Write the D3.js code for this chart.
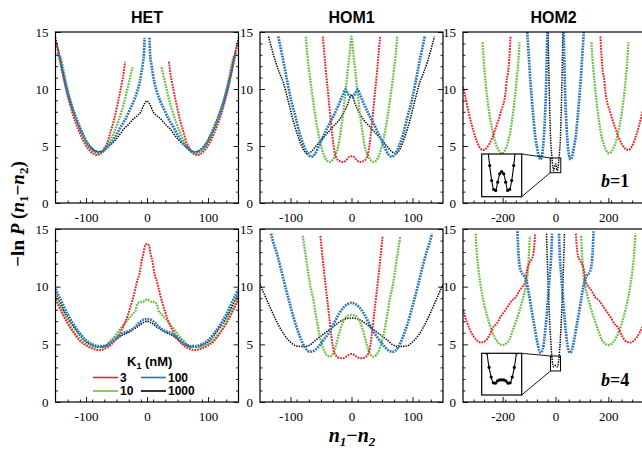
<!DOCTYPE html>
<html>
<head>
<meta charset="utf-8">
<script src="https://cdn.jsdelivr.net/npm/d3@7"></script>
<style>
body { margin: 0; background: #fff; }
svg { display: block; }
</style>
</head>
<body>
<script>
// K1 values (nM) of the four series
const k1Values = ['3', '10', '100', '1000'];

// HET, b=1  (points [n1-n2, -ln P]; null = no data)
const hetTop3 = [[-150,14.0],[-146,13.4],[-142,12.5],[-138,11.4],[-134,10.3],[-130,9.4],[-124,8.2],[-118,7.2],[-110,6.1],[-102,5.2],[-94,4.6],[-86,4.25],[-82,4.2],[-76,4.35],[-70,4.8],[-65,5.3],[-60,6.2],[-54,7.3],[-49,8.5],[-45,9.5],[-41,10.6],[-38,11.5],[-36,12.4],
  null,[36,12.4],[38,11.5],[41,10.6],[45,9.5],[49,8.5],[54,7.3],[60,6.2],[65,5.3],[70,4.8],[76,4.35],[82,4.2],[86,4.25],[94,4.6],[102,5.2],[110,6.1],[118,7.2],[124,8.2],[130,9.4],[134,10.3],[138,11.4],[142,12.5],[146,13.4],[150,14.0]];
const hetTop10 = [[-142,12.9],[-138,12.0],[-134,10.9],[-129,9.7],[-123,8.5],[-116,7.3],[-108,6.2],[-100,5.3],[-92,4.7],[-84,4.4],[-78,4.35],[-72,4.5],[-66,4.9],[-60,5.5],[-54,6.2],[-48,7.0],[-42,8.0],[-37,8.9],[-33,9.8],[-29,10.7],[-26,11.4],[-24,11.9],
  null,[24,11.9],[26,11.4],[29,10.7],[33,9.8],[37,8.9],[42,8.0],[48,7.0],[54,6.2],[60,5.5],[66,4.9],[72,4.5],[78,4.35],[84,4.4],[92,4.7],[100,5.3],[108,6.2],[116,7.3],[123,8.5],[129,9.7],[134,10.9],[138,12.0],[142,12.9]];
const hetTop100 = [[-146,13.2],[-142,12.4],[-138,11.4],[-133,10.3],[-127,9.1],[-120,8.0],[-112,6.9],[-104,5.9],[-96,5.1],[-88,4.65],[-80,4.45],[-74,4.5],[-68,4.75],[-60,5.2],[-52,5.8],[-44,6.6],[-36,7.3],[-28,8.2],[-22,8.9],[-16,9.8],[-12,10.6],[-9,11.5],[-7,12.2],[-5,13.1],[-4,14.5],
  null,[4,14.5],[5,13.1],[7,12.2],[9,11.5],[12,10.6],[16,9.8],[22,8.9],[28,8.2],[36,7.3],[44,6.6],[52,5.8],[60,5.2],[68,4.75],[74,4.5],[80,4.45],[88,4.65],[96,5.1],[104,5.9],[112,6.9],[120,8.0],[127,9.1],[133,10.3],[138,11.4],[142,12.4],[146,13.2]];
const hetTop1000 = [[-150,14.5],[-147,13.8],[-143,12.8],[-139,11.6],[-134,10.5],[-128,9.3],[-122,8.3],[-115,7.2],[-108,6.3],[-100,5.5],[-92,4.9],[-84,4.55],[-77,4.5],[-70,4.65],[-62,5.0],[-54,5.4],[-46,5.9],[-38,6.5],[-30,6.9],[-22,7.4],[-15,7.7],[-10,8.0],[-6,8.5],[-3,8.8],[0,8.95],
  [3,8.8],[6,8.5],[10,8.0],[15,7.7],[22,7.4],[30,6.9],[38,6.5],[46,5.9],[54,5.4],[62,5.0],[70,4.65],[77,4.5],[84,4.55],[92,4.9],[100,5.5],[108,6.3],[115,7.2],[122,8.3],[128,9.3],[134,10.5],[139,11.6],[143,12.8],[147,13.8],[150,14.5]];

// HOM1, b=1
const hom1Top3 = [[-47,14.6],[-44,12.8],[-41,11.0],[-39,10.0],[-36,8.3],[-33,6.7],[-30,5.3],[-27,4.3],[-22,3.75],[-14,3.6],[-8,3.8],[-4,4.05],[0,4.1],[4,4.05],[8,3.8],[14,3.6],[22,3.75],[27,4.3],[30,5.3],[33,6.7],[36,8.3],[39,10.0],[41,11.0],[44,12.8],[47,14.6]];
const hom1Top10 = [[-75,14.6],[-72,12.8],[-68,11.0],[-63,9.0],[-58,7.2],[-52,5.5],[-46,4.3],[-40,3.7],[-36,3.6],[-31,3.8],[-26,4.3],[-22,4.9],[-18,6.2],[-14,7.7],[-11,9.2],[-8,10.7],[-6,11.7],[-3,13.1],[0,14.6],
  [3,13.1],[6,11.7],[8,10.7],[11,9.2],[14,7.7],[18,6.2],[22,4.9],[26,4.3],[31,3.8],[36,3.6],[40,3.7],[46,4.3],[52,5.5],[58,7.2],[63,9.0],[68,11.0],[72,12.8],[75,14.6]];
const hom1Top100 = [[-120,14.6],[-117,13.8],[-113,12.8],[-109,11.7],[-104,10.3],[-99,9.0],[-92,7.6],[-85,6.1],[-78,5.0],[-72,4.35],[-66,4.06],[-60,4.3],[-52,5.2],[-44,6.1],[-36,7.0],[-28,7.8],[-22,8.5],[-14,9.5],[-10,9.97],[-6,9.6],[-3,9.35],[0,9.3],
  [3,9.35],[6,9.6],[10,9.97],[14,9.5],[22,8.5],[28,7.8],[36,7.0],[44,6.1],[52,5.2],[60,4.3],[66,4.06],[72,4.35],[78,5.0],[85,6.1],[92,7.6],[99,9.0],[104,10.3],[109,11.7],[113,12.8],[117,13.8],[120,14.6]];
const hom1Top1000 = [[-136,14.6],[-130,13.4],[-124,12.3],[-118,11.4],[-112,10.6],[-104,9.0],[-96,7.3],[-88,5.9],[-80,4.8],[-73,4.35],[-66,4.5],[-58,5.0],[-50,5.5],[-40,6.1],[-30,6.7],[-20,7.3],[-12,8.0],[-6,8.7],[-3,9.2],[0,9.5],
  [3,9.2],[6,8.7],[12,8.0],[20,7.3],[30,6.7],[40,6.1],[50,5.5],[58,5.0],[66,4.5],[73,4.35],[80,4.8],[88,5.9],[96,7.3],[104,9.0],[112,10.6],[118,11.4],[124,12.3],[130,13.4],[136,14.6]];

// HOM2, b=1
const hom2Top3 = [[-350,10.2],[-340,9.2],[-328,7.9],[-315,6.7],[-302,5.7],[-290,5.0],[-275,4.65],[-262,4.8],[-250,5.2],[-238,5.8],[-226,6.6],[-214,7.4],[-204,8.2],[-198,8.6],[-193,9.1],[-188,9.9],[-184,10.9],[-179,11.5],[-175,12.6],[-170,14.6],
  null,[170,14.6],[175,12.6],[179,11.5],[184,10.9],[188,9.9],[193,9.1],[198,8.6],[204,8.2],[214,7.4],[226,6.6],[238,5.8],[250,5.2],[262,4.8],[275,4.65],[290,5.0],[302,5.7],[315,6.7],[328,7.9],[340,9.2],[350,10.2]];
const hom2Top10 = [[-276,14.1],[-270,12.0],[-263,10.2],[-256,8.8],[-248,7.5],[-238,6.3],[-226,5.2],[-214,4.6],[-203,4.35],[-192,4.6],[-182,5.2],[-172,6.1],[-164,7.3],[-157,8.6],[-151,9.8],[-145,11.3],[-140,12.6],[-136,14.1],
  null,[136,14.1],[140,12.6],[145,11.3],[151,9.8],[157,8.6],[164,7.3],[172,6.1],[182,5.2],[192,4.6],[203,4.35],[214,4.6],[226,5.2],[238,6.3],[248,7.5],[256,8.8],[263,10.2],[270,12.0],[276,14.1]];
const hom2Top100 = [[-107,15.0],[-102,13.2],[-96,11.0],[-90,9.2],[-84,7.6],[-78,6.1],[-70,4.9],[-63,4.1],[-57,3.83],[-51,4.2],[-46,5.2],[-42,6.6],[-38,8.6],[-35,10.8],[-33,12.8],[-31,15.0],
  null,[31,15.0],[33,12.8],[35,10.8],[38,8.6],[42,6.6],[46,5.2],[51,4.2],[57,3.83],[63,4.1],[70,4.9],[78,6.1],[84,7.6],[90,9.2],[96,11.0],[102,13.2],[107,15.0]];
const hom2Top1000 = [[-28,15.2],[-26,12.6],[-24,10.3],[-22,8.3],[-20,6.6],[-18,5.4],[-16,4.7],[-14,4.15],[-12,3.6],[-10,3.15],[-8,2.88],[-6,2.85],[-4,3.1],[-2,3.35],[0,3.42],
  [2,3.35],[4,3.1],[6,2.85],[8,2.88],[10,3.15],[12,3.6],[14,4.15],[16,4.7],[18,5.4],[20,6.6],[22,8.3],[24,10.3],[26,12.6],[28,15.2]];

// HET, b=4
const hetBot3 = [[-150,8.9],[-140,7.8],[-130,6.8],[-120,6.0],[-110,5.3],[-100,4.9],[-90,4.65],[-78,4.5],[-68,4.65],[-58,5.0],[-50,5.5],[-42,6.2],[-35,7.0],[-28,8.1],[-22,9.2],[-16,10.5],[-12,11.2],[-9,12.2],[-6,12.8],[-3,13.6],[0,13.7],
  [3,13.6],[6,12.8],[9,12.2],[12,11.2],[16,10.5],[22,9.2],[28,8.1],[35,7.0],[42,6.2],[50,5.5],[58,5.0],[68,4.65],[78,4.5],[90,4.65],[100,4.9],[110,5.3],[120,6.0],[130,6.8],[140,7.8],[150,8.9]];
const hetBot10 = [[-150,9.2],[-140,8.0],[-130,7.0],[-120,6.1],[-110,5.5],[-100,5.05],[-90,4.8],[-80,4.75],[-70,4.85],[-60,5.3],[-50,5.9],[-40,6.6],[-32,7.1],[-24,7.6],[-19,7.9],[-16,8.5],[-12,8.65],[-6,8.7],[0,8.9],
  [6,8.7],[12,8.65],[16,8.5],[19,7.9],[24,7.6],[32,7.1],[40,6.6],[50,5.9],[60,5.3],[70,4.85],[80,4.75],[90,4.8],[100,5.05],[110,5.5],[120,6.1],[130,7.0],[140,8.0],[150,9.2]];
const hetBot100 = [[-150,9.8],[-140,8.7],[-130,7.6],[-120,6.7],[-110,5.95],[-100,5.35],[-90,5.0],[-80,4.85],[-70,4.85],[-60,5.15],[-50,5.6],[-40,5.95],[-30,6.15],[-22,6.4],[-16,6.7],[-10,7.0],[-5,7.15],[0,7.2],
  [5,7.15],[10,7.0],[16,6.7],[22,6.4],[30,6.15],[40,5.95],[50,5.6],[60,5.15],[70,4.85],[80,4.85],[90,5.0],[100,5.35],[110,5.95],[120,6.7],[130,7.6],[140,8.7],[150,9.8]];
const hetBot1000 = [[-150,9.4],[-140,8.3],[-130,7.3],[-120,6.5],[-110,5.8],[-100,5.2],[-90,4.9],[-80,4.75],[-70,4.8],[-60,5.05],[-50,5.45],[-40,5.8],[-30,6.05],[-22,6.3],[-16,6.5],[-10,6.75],[-5,6.9],[0,7.0],
  [5,6.9],[10,6.75],[16,6.5],[22,6.3],[30,6.05],[40,5.8],[50,5.45],[60,5.05],[70,4.8],[80,4.75],[90,4.9],[100,5.2],[110,5.8],[120,6.5],[130,7.3],[140,8.3],[150,9.4]];

// HOM1, b=4
const hom1Bot3 = [[-51,14.4],[-47,12.3],[-44,10.8],[-41,9.4],[-37,7.6],[-33,5.7],[-29,4.4],[-25,4.0],[-20,3.82],[-14,3.79],[-8,3.95],[-4,4.1],[0,4.16],
  [4,4.1],[8,3.95],[14,3.79],[20,3.82],[25,4.0],[29,4.4],[33,5.7],[37,7.6],[41,9.4],[44,10.8],[47,12.3],[51,14.4]];
const hom1Bot10 = [[-80,14.4],[-76,13.0],[-72,11.6],[-68,10.2],[-63,9.0],[-58,7.4],[-52,5.7],[-46,4.6],[-41,4.1],[-36,3.93],[-30,4.2],[-25,5.0],[-20,6.0],[-15,6.8],[-10,7.3],[-5,7.5],[0,7.55],
  [5,7.5],[10,7.3],[15,6.8],[20,6.0],[25,5.0],[30,4.2],[36,3.93],[41,4.1],[46,4.6],[52,5.7],[58,7.4],[63,9.0],[68,10.2],[72,11.6],[76,13.0],[80,14.4]];
const hom1Bot100 = [[-132,14.6],[-128,13.8],[-123,13.0],[-116,11.6],[-108,9.9],[-100,8.3],[-92,6.8],[-84,5.6],[-76,4.7],[-68,4.36],[-60,4.5],[-52,4.94],[-44,5.5],[-36,6.1],[-28,6.9],[-20,7.7],[-12,8.25],[-6,8.5],[0,8.6],
  [6,8.5],[12,8.25],[20,7.7],[28,6.9],[36,6.1],[44,5.5],[52,4.94],[60,4.5],[68,4.36],[76,4.7],[84,5.6],[92,6.8],[100,8.3],[108,9.9],[116,11.6],[123,13.0],[128,13.8],[132,14.6]];
const hom1Bot1000 = [[-150,10.2],[-140,9.0],[-130,7.8],[-120,6.7],[-110,5.8],[-100,5.2],[-90,4.85],[-78,4.8],[-68,4.95],[-58,5.4],[-48,5.8],[-38,6.2],[-28,6.6],[-18,7.0],[-10,7.2],[0,7.28],
  [10,7.2],[18,7.0],[28,6.6],[38,6.2],[48,5.8],[58,5.4],[68,4.95],[78,4.8],[90,4.85],[100,5.2],[110,5.8],[120,6.7],[130,7.8],[140,9.0],[150,10.2]];

// HOM2, b=4
const hom2Bot3 = [[-350,8.0],[-335,6.9],[-318,6.0],[-300,5.4],[-282,5.15],[-265,5.3],[-250,5.8],[-235,6.5],[-222,6.8],[-210,7.3],[-195,7.8],[-180,8.3],[-165,8.8],[-150,9.1],[-138,9.6],[-125,10.0],[-115,10.4],[-108,11.4],[-100,12.0],[-92,12.3],[-85,12.7],[-80,13.6],[-77,14.6],
  null,[77,14.6],[80,13.6],[85,12.7],[92,12.3],[100,12.0],[108,11.4],[115,10.4],[125,10.0],[138,9.6],[150,9.1],[165,8.8],[180,8.3],[195,7.8],[210,7.3],[222,6.8],[235,6.5],[250,5.8],[265,5.3],[282,5.15],[300,5.4],[318,6.0],[335,6.9],[350,8.0]];
const hom2Bot10 = [[-302,14.6],[-298,13.0],[-292,11.6],[-284,10.2],[-272,8.7],[-258,7.4],[-240,6.1],[-222,5.3],[-210,5.0],[-199,4.94],[-188,5.05],[-175,5.4],[-162,6.2],[-148,7.1],[-135,8.0],[-122,9.1],[-112,10.1],[-106,11.0],[-102,12.2],[-99,13.4],[-97,14.4],
  null,[97,14.4],[99,13.4],[102,12.2],[106,11.0],[112,10.1],[122,9.1],[135,8.0],[148,7.1],[162,6.2],[175,5.4],[188,5.05],[199,4.94],[210,5.0],[222,5.3],[240,6.1],[258,7.4],[272,8.7],[284,10.2],[292,11.6],[298,13.0],[302,14.6]];
const hom2Bot100 = [[-144,14.8],[-141,13.2],[-137,12.0],[-130,11.3],[-120,11.0],[-110,10.5],[-100,9.3],[-90,7.9],[-80,6.6],[-70,5.3],[-62,4.5],[-56,4.28],[-48,4.6],[-42,5.5],[-37,6.6],[-32,7.9],[-27,9.4],[-22,10.9],[-17,12.4],[-13,14.6],
  null,[13,14.6],[17,12.4],[22,10.9],[27,9.4],[32,7.9],[37,6.6],[42,5.5],[48,4.6],[56,4.28],[62,4.5],[70,5.3],[80,6.6],[90,7.9],[100,9.3],[110,10.5],[120,11.0],[130,11.3],[137,12.0],[141,13.2],[144,14.8]];
const hom2Bot1000 = [[-34,14.6],[-32,13.0],[-30,11.6],[-28,10.3],[-26,9.1],[-24,8.0],[-22,7.0],[-20,6.1],[-18,5.3],[-16,4.6],[-14,4.0],[-12,3.55],[-10,3.25],[-8,3.07],[-6,3.06],[-4,3.13],[-2,3.16],[0,3.16],
  [2,3.16],[4,3.13],[6,3.06],[8,3.07],[10,3.25],[12,3.55],[14,4.0],[16,4.6],[18,5.3],[20,6.1],[22,7.0],[24,8.0],[26,9.1],[28,10.3],[30,11.6],[32,13.0],[34,14.6]];

// axis ticks
const yMajor = [0, 5, 10, 15];
const xMajorNarrow = [-100, 0, 100];
const xMajorWide = [-200, 0, 200];

const colors = { '3': '#e8242b', '10': '#6bbd46', '100': '#2574b9', '1000': '#000000' };
const widths = { '3': 2.0, '10': 2.3, '100': 2.7, '1000': 1.5 };
const drawOrder = ['1000', '10', '3', '100'];

const width = 642, height = 449;
const cols = [[55.5, 238.5], [260, 443], [463, 648]];
const rows = [[32, 203], [229, 402]];

const panels = [
  { title: 'HET',  c: 0, r: 0, dom: [-150, 150], major: xMajorNarrow, step: 20, s: { '3': hetTop3, '10': hetTop10, '100': hetTop100, '1000': hetTop1000 } },
  { title: 'HOM1', c: 1, r: 0, dom: [-150, 150], major: xMajorNarrow, step: 20, s: { '3': hom1Top3, '10': hom1Top10, '100': hom1Top100, '1000': hom1Top1000 } },
  { title: 'HOM2', c: 2, r: 0, dom: [-350, 350], major: xMajorWide, step: 40, s: { '3': hom2Top3, '10': hom2Top10, '100': hom2Top100, '1000': hom2Top1000 },
    inset: { xd: [-20, 20], yd: [2.66, 3.95], box: [481.7, 154, 521.7, 196.7], label: '1' } },
  { c: 0, r: 1, dom: [-150, 150], major: xMajorNarrow, step: 20, s: { '3': hetBot3, '10': hetBot10, '100': hetBot100, '1000': hetBot1000 } },
  { c: 1, r: 1, dom: [-150, 150], major: xMajorNarrow, step: 20, s: { '3': hom1Bot3, '10': hom1Bot10, '100': hom1Bot100, '1000': hom1Bot1000 } },
  { c: 2, r: 1, dom: [-350, 350], major: xMajorWide, step: 40, s: { '3': hom2Bot3, '10': hom2Bot10, '100': hom2Bot100, '1000': hom2Bot1000 },
    inset: { xd: [-19, 19], yd: [2.69, 3.99], box: [481.7, 353.3, 521.7, 395], label: '4' } }
];

const svg = d3.select('body').append('svg')
    .attr('width', width)
    .attr('height', height)
    .attr('viewBox', [0, 0, width, height]);

const serif = "'Liberation Serif', 'Times New Roman', serif";
const sans = "'Liberation Sans', Arial, sans-serif";

panels.forEach((p, i) => {
  const [x0, x1] = cols[p.c], [y0, y1] = rows[p.r];
  const x = d3.scaleLinear().domain(p.dom).range([x0, x1]);
  const y = d3.scaleLinear().domain([0, 15]).range([y1, y0]);
  const g = svg.append('g');

  const clipId = 'clip' + i;
  svg.append('clipPath').attr('id', clipId)
    .append('rect').attr('x', x0).attr('y', y0).attr('width', x1 - x0).attr('height', y1 - y0);

  // curves
  const line = d3.line()
      .defined(d => d !== null)
      .x(d => x(d[0]))
      .y(d => y(d[1]))
      .curve(d3.curveMonotoneX);
  const cg = g.append('g').attr('clip-path', `url(#${clipId})`);
  drawOrder.forEach(k => {
    cg.append('path')
      .attr('d', line(p.s[k]))
      .attr('fill', 'none')
      .attr('stroke', colors[k])
      .attr('stroke-width', widths[k])
      .attr('stroke-dasharray', k === '1000' ? '1.4 1.1' : '1.8 1');
  });

  // axes, ticks pointing inward
  const minorX = d3.range(p.dom[0] + p.step, p.dom[1], p.step).filter(v => !p.major.includes(v) && Math.abs(v) < p.dom[1]);
  const minorY = d3.range(1, 15).filter(v => v % 5 !== 0);

  const axisStyle = a => a.attr('font-family', null)
      .call(s => s.select('.domain').remove())
      .call(s => s.selectAll('line').attr('stroke', '#000').attr('stroke-width', 0.9))
      .call(s => s.selectAll('text').style('font-family', serif).style('font-size', '13px').attr('fill', '#000'));

  g.append('g').attr('transform', `translate(0,${y1})`)
    .call(d3.axisBottom(x).tickValues(p.major).tickSize(-5).tickPadding(10).tickFormat(d => String(d)))
    .call(axisStyle);
  g.append('g').attr('transform', `translate(0,${y1})`)
    .call(d3.axisBottom(x).tickValues(minorX).tickSize(-2.5).tickFormat(''))
    .call(axisStyle);
  g.append('g').attr('transform', `translate(${x0},0)`)
    .call(d3.axisLeft(y).tickValues(yMajor).tickSize(-5).tickPadding(7))
    .call(axisStyle);
  g.append('g').attr('transform', `translate(${x0},0)`)
    .call(d3.axisLeft(y).tickValues(minorY).tickSize(-2.5).tickFormat(''))
    .call(axisStyle);
  g.append('g').attr('transform', `translate(${x1},0)`)
    .call(d3.axisRight(y).tickValues(yMajor).tickSize(-5).tickFormat(''))
    .call(axisStyle);
  g.append('g').attr('transform', `translate(${x1},0)`)
    .call(d3.axisRight(y).tickValues(minorY).tickSize(-2.5).tickFormat(''))
    .call(axisStyle);

  g.append('rect')
    .attr('x', x0).attr('y', y0).attr('width', x1 - x0).attr('height', y1 - y0)
    .attr('fill', 'none').attr('stroke', '#000').attr('stroke-width', 1.2);

  if (p.title) {
    svg.append('text')
      .attr('x', (x0 + x1) / 2 - (p.c === 2 ? 2 : 0)).attr('y', 23)
      .attr('text-anchor', 'middle')
      .style('font-family', sans).attr('font-weight', 'bold').attr('font-size', 16)
      .text(p.title);
  }

  if (p.inset) {
    const ins = p.inset;
    const [bx0, by0, bx1, by1] = ins.box;
    const xi = d3.scaleLinear().domain(ins.xd).range([bx0, bx1]);
    const yi = d3.scaleLinear().domain(ins.yd).range([by1, by0]);
    // small box in the main panel
    const sx0 = x(ins.xd[0]), sx1 = x(ins.xd[1]), sy0 = y(ins.yd[1]), sy1 = y(ins.yd[0]);
    g.append('rect').attr('x', sx0).attr('y', sy0).attr('width', sx1 - sx0).attr('height', sy1 - sy0)
      .attr('fill', 'none').attr('stroke', '#000').attr('stroke-width', 1);
    g.append('line').attr('x1', bx1).attr('y1', by0).attr('x2', sx0).attr('y2', sy0).attr('stroke', '#000').attr('stroke-width', 0.9);
    g.append('line').attr('x1', bx1).attr('y1', by1).attr('x2', sx0).attr('y2', sy1).attr('stroke', '#000').attr('stroke-width', 0.9);
    g.append('rect').attr('x', bx0).attr('y', by0).attr('width', bx1 - bx0).attr('height', by1 - by0)
      .attr('fill', '#fff').attr('stroke', '#000').attr('stroke-width', 1.2);

    const iclip = 'iclip' + i;
    svg.append('clipPath').attr('id', iclip)
      .append('rect').attr('x', bx0).attr('y', by0).attr('width', bx1 - bx0).attr('height', by1 - by0);
    const ig = g.append('g').attr('clip-path', `url(#${iclip})`);
    const iline = d3.line().defined(d => d !== null).x(d => xi(d[0])).y(d => yi(d[1])).curve(d3.curveMonotoneX);
    const pts = p.s['1000'];
    ig.append('path').attr('d', iline(pts)).attr('fill', 'none').attr('stroke', '#000').attr('stroke-width', 1.1);
    ig.selectAll('circle').data(pts.filter(d => d !== null)).join('circle')
      .attr('cx', d => xi(d[0])).attr('cy', d => yi(d[1])).attr('r', 1.6).attr('fill', '#000');

    const bt = svg.append('text')
      .attr('x', 601).attr('y', y1 - 16)
      .style('font-family', serif).attr('font-weight', 'bold').attr('font-size', 18);
    bt.append('tspan').attr('font-style', 'italic').text('b');
    bt.append('tspan').text('=' + ins.label);
  }
});

// y axis label
const yl = svg.append('text')
    .attr('transform', 'translate(24,214) rotate(-90)')
    .attr('text-anchor', 'middle')
    .style('font-family', serif).attr('font-weight', 'bold').attr('font-size', 19);
yl.append('tspan').text('\u2212ln ');
yl.append('tspan').attr('font-style', 'italic').text('P');
yl.append('tspan').text(' (');
yl.append('tspan').attr('font-style', 'italic').text('n');
yl.append('tspan').attr('font-size', 13).attr('dy', 4).text('1');
yl.append('tspan').attr('dy', -4).text('\u2212');
yl.append('tspan').attr('font-style', 'italic').text('n');
yl.append('tspan').attr('font-size', 13).attr('dy', 4).text('2');
yl.append('tspan').attr('dy', -4).text(')');

// x axis label
const xl = svg.append('text')
    .attr('x', 352).attr('y', 442)
    .attr('text-anchor', 'middle')
    .style('font-family', serif).attr('font-weight', 'bold').attr('font-style', 'italic').attr('font-size', 20);
xl.append('tspan').text('n');
xl.append('tspan').attr('font-size', 13).attr('dy', 4).text('1');
xl.append('tspan').attr('dy', -4).attr('font-style', 'normal').text('\u2212');
xl.append('tspan').text('n');
xl.append('tspan').attr('font-size', 13).attr('dy', 4).text('2');

// legend
const lg = svg.append('g').style('font-family', sans).attr('font-weight', 'bold');
const lt = lg.append('text').attr('x', 127).attr('y', 366).attr('font-size', 13);
lt.append('tspan').text('K');
lt.append('tspan').attr('font-size', 9).attr('dy', 3).text('1');
lt.append('tspan').attr('dy', -3).text(' (nM)');
const legendPos = { '3': [93, 377.5], '10': [93, 391], '100': [141, 377.5], '1000': [141, 391] };
k1Values.forEach(k => {
  const [lx, ly] = legendPos[k];
  lg.append('line').attr('x1', lx).attr('x2', lx + 25).attr('y1', ly).attr('y2', ly)
    .attr('stroke', colors[k]).attr('stroke-width', 1.6);
  lg.append('text').attr('x', lx + 27).attr('y', ly + 4).attr('font-size', 12).text(k);
});
</script>
</body>
</html>
